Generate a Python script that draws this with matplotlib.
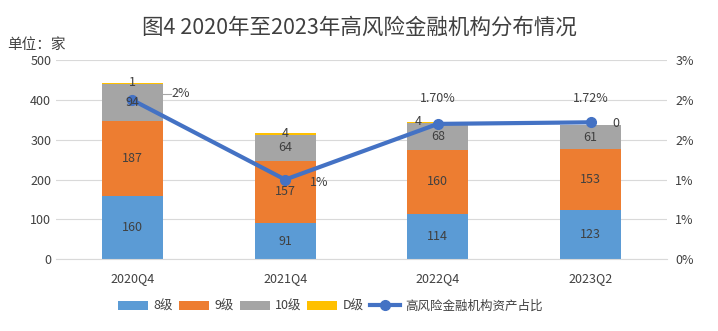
import matplotlib
matplotlib.use("Agg")
import matplotlib.pyplot as plt
import numpy as np

plt.rcParams['font.family'] = ['Noto Sans CJK SC', 'DejaVu Sans']

# data
quarters = ['2020Q4', '2021Q4', '2022Q4', '2023Q2']
grade8 = [160, 91, 114, 123]
grade9 = [187, 157, 160, 153]
grade10 = [94, 64, 68, 61]
gradeD = [1, 4, 4, 0]
asset_share = [2.0, 1.0, 1.70, 1.72]
share_labels = ['2%', '1%', '1.70%', '1.72%']
right_ticks = [0, 0.5, 1.0, 1.5, 2.0, 2.5]
right_tick_labels = ['0%', '1%', '1%', '2%', '2%', '3%']

colors = ['#5B9BD5', '#ED7D31', '#A5A5A5', '#FFC000']
line_color = '#4472C4'
text_color = '#404040'

fig = plt.figure(figsize=(7.18, 3.31), dpi=100)
ax = fig.add_axes([0.078, 0.217, 0.851, 0.601])
ax2 = ax.twinx()

x = np.arange(len(quarters))
width = 0.4
series = [('8级', grade8), ('9级', grade9), ('10级', grade10), ('D级', gradeD)]
bottom = np.zeros(len(quarters))
handles = []
for (name, vals), c in zip(series, colors):
    b = ax.bar(x, vals, width, bottom=bottom, color=c, label=name, zorder=2)
    handles.append(b)
    for i, v in enumerate(vals):
        if name == 'D级':
            continue
        # drawn on ax2 so the labels sit over the line
        ax2.text(x[i], bottom[i] + v / 2, str(v), ha='center', va='center',
                 fontsize=9, color=text_color, zorder=6, transform=ax.transData)
    bottom += np.array(vals)

# D-level labels sit on top of the bars
totals = bottom
for i, v in enumerate(gradeD):
    if i == 3:
        continue
    ax2.text(x[i] - (0.13 if i == 2 else 0), totals[i] + 1, str(v), ha='center',
             va='center', fontsize=9, color=text_color, zorder=6, transform=ax.transData)

ax.set_ylim(0, 500)
ax.set_yticks(range(0, 501, 100))
ax.set_xlim(-0.5, len(quarters) - 0.5)
ax.set_xticks(x)
ax.set_xticklabels(quarters, fontsize=9, color=text_color)
ax.tick_params(axis='y', labelsize=9, colors=text_color, length=0)
ax.tick_params(axis='x', length=0, pad=9)
ax.yaxis.grid(True, color='#D9D9D9', linewidth=0.8, zorder=0)
ax.set_axisbelow(True)
for s in ['top', 'right', 'left']:
    ax.spines[s].set_visible(False)
ax.spines['bottom'].set_color('#D9D9D9')

ln, = ax2.plot(x, asset_share, color=line_color, linewidth=3, marker='o',
               markersize=7, label='高风险金融机构资产占比', zorder=5)
ax2.set_ylim(0, 2.5)
ax2.set_yticks(right_ticks)
ax2.set_yticklabels(right_tick_labels)
ax2.tick_params(axis='y', labelsize=9, colors=text_color, length=0, pad=6)
for s in ax2.spines.values():
    s.set_visible(False)

# line labels with small leader lines
offsets = [(28, 5), (18, -2), (0, 18), (0, 17)]
for i, (lab, off) in enumerate(zip(share_labels, offsets)):
    ax2.annotate(lab, (x[i], asset_share[i]), xytext=off, textcoords='offset points',
                 ha='left' if i < 2 else 'center', va='center', fontsize=9,
                 color=text_color)
ax2.plot([x[0] + 0.2, x[0] + 0.25], [2.07, 2.07], color='#A6A6A6', linewidth=0.8)
ax2.annotate('0', (x[3], asset_share[3]), xytext=(18, -1), textcoords='offset points',
             ha='center', va='center', fontsize=9, color=text_color)

fig.text(0.5, 0.915, '图4 2020年至2023年高风险金融机构分布情况', ha='center', va='center',
         fontsize=15.5, color=text_color)
fig.text(0.01, 0.865, '单位：家', ha='left', va='center', fontsize=10.5, color=text_color)

fig.legend(handles + [ln], ['8级', '9级', '10级', 'D级', '高风险金融机构资产占比'],
           loc='center', bbox_to_anchor=(0.46, 0.075), ncol=5, frameon=False,
           fontsize=9, handlelength=2.4, handleheight=0.7, columnspacing=0.5,
           handletextpad=0.4, labelcolor=text_color)

fig.savefig('out.png', dpi=100)
